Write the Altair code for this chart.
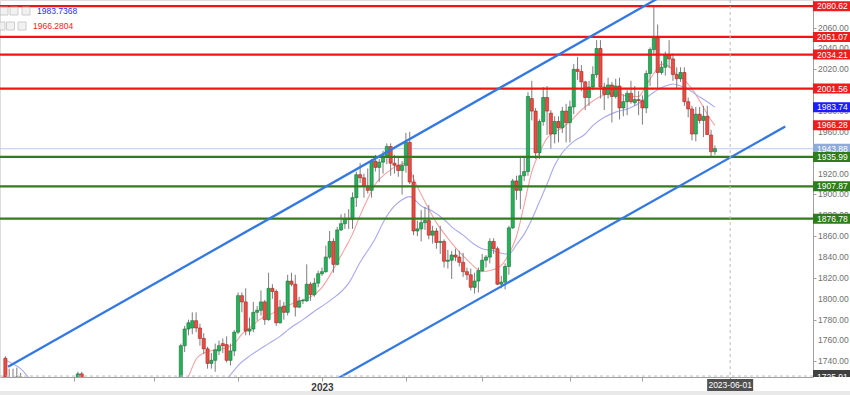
import altair as alt
import pandas as pd

# ---------------- data ----------------
# session numbers: 0 = 2022-11-01, one per trading day (2023-04-07 closed)
FIRST_SESSION = 7  # 2022-11-10
opens = [1706, 1755, 1771, 1772, 1779, 1772, 1762, 1752, 1738, 1741, 1750, 1757, 1756, 1741, 1750,
         1768, 1803, 1797, 1769, 1771, 1787, 1789, 1797, 1780, 1810, 1807, 1777, 1793, 1787, 1817,
         1814, 1792, 1798, 1798, 1814, 1804, 1815, 1824, 1826, 1840, 1855, 1833, 1866, 1872, 1877,
         1876, 1897, 1919, 1916, 1908, 1904, 1932, 1926, 1931, 1937, 1946, 1930, 1928, 1923, 1928,
         1950, 1912, 1865, 1867, 1873, 1875, 1861, 1865, 1854, 1855, 1836, 1837, 1842, 1840, 1835,
         1826, 1823, 1811, 1817, 1827, 1837, 1840, 1855, 1848, 1814, 1816, 1831, 1868, 1913, 1904,
         1918, 1922, 1992, 1980, 1940, 1970, 1993, 1978, 1958, 1970, 1964, 1980, 1969, 1984, 2020,
         2018, 2008, 1993, 2003, 2015, 2040, 2003, 1996, 2005, 1994, 2004, 1983, 1989, 1997, 1988,
         1991, 1990, 1983, 2016, 2039, 2050, 2017, 2022, 2034, 2030, 2015, 2011, 2017, 1989, 1982,
         1958, 1977, 1971, 1975, 1957, 1941]
highs = [1757, 1774, 1780, 1787, 1787, 1776, 1767, 1754, 1748, 1757, 1760, 1762, 1764, 1757, 1770,
         1806, 1806, 1810, 1782, 1797, 1793, 1808, 1799, 1825, 1814, 1809, 1799, 1797, 1823, 1825,
         1823, 1802, 1800, 1833, 1816, 1820, 1827, 1830, 1851, 1865, 1858, 1869, 1881, 1882, 1886,
         1902, 1922, 1930, 1920, 1925, 1934, 1938, 1934, 1942, 1949, 1949, 1938, 1935, 1932, 1959,
         1960, 1919, 1875, 1885, 1888, 1890, 1870, 1868, 1870, 1857, 1847, 1846, 1848, 1846, 1844,
         1830, 1829, 1825, 1830, 1843, 1842, 1858, 1858, 1850, 1822, 1834, 1870, 1915, 1918, 1937,
         1937, 1998, 2009, 1983, 1972, 2003, 2004, 1981, 1975, 1975, 1984, 1987, 1990, 2025, 2032,
         2024, 2009, 2009, 2023, 2048, 2048, 2007, 2012, 2008, 2011, 2012, 1996, 2000, 2009, 2004,
         1999, 1995, 2019, 2041, 2081, 2063, 2028, 2037, 2048, 2035, 2022, 2022, 2022, 1993, 1985,
         1984, 1984, 1985, 1985, 1962, 1947]
lows = [1702, 1749, 1765, 1766, 1768, 1755, 1747, 1733, 1733, 1730, 1746, 1748, 1739, 1736, 1745,
        1766, 1787, 1765, 1765, 1768, 1779, 1784, 1775, 1779, 1800, 1774, 1776, 1780, 1784, 1812,
        1783, 1791, 1795, 1797, 1798, 1802, 1811, 1822, 1825, 1838, 1825, 1832, 1865, 1867, 1867,
        1867, 1888, 1911, 1897, 1901, 1897, 1922, 1912, 1920, 1929, 1918, 1920, 1917, 1900, 1921,
        1910, 1861, 1860, 1855, 1866, 1857, 1853, 1848, 1843, 1830, 1829, 1819, 1836, 1831, 1821,
        1818, 1808, 1805, 1806, 1826, 1830, 1834, 1843, 1813, 1810, 1809, 1823, 1867, 1895, 1886,
        1913, 1918, 1971, 1934, 1934, 1966, 1957, 1944, 1949, 1950, 1959, 1950, 1950, 1977, 2010,
        1999, 1981, 1985, 2000, 2012, 1992, 1981, 1992, 1969, 1992, 1972, 1975, 1976, 1987, 1985,
        1976, 1967, 1978, 2004, 2035, 2002, 2015, 2014, 2021, 2009, 2002, 2008, 1985, 1974, 1952,
        1951, 1968, 1955, 1957, 1936, 1938]
closes = [1755, 1771, 1777, 1779, 1772, 1762, 1752, 1738, 1741, 1751, 1755, 1755, 1741, 1750, 1768,
          1803, 1797, 1769, 1771, 1787, 1789, 1797, 1780, 1810, 1807, 1777, 1792, 1787, 1817, 1814,
          1792, 1798, 1798.5, 1814, 1804, 1815, 1824, 1826, 1840, 1855, 1833, 1866, 1872, 1877, 1876,
          1897, 1919, 1916, 1908, 1904, 1932, 1926, 1931, 1937, 1946, 1930, 1928, 1923, 1928, 1950,
          1912, 1865, 1867, 1873, 1875, 1861, 1865, 1854, 1855, 1836, 1837, 1842, 1840, 1835, 1826,
          1823, 1811, 1817, 1827, 1837, 1840, 1855, 1848, 1814, 1816, 1831, 1868, 1913, 1904, 1918,
          1922, 1994, 1980, 1940, 1970, 1993, 1980, 1958, 1970, 1964, 1980, 1969, 1984, 2020, 2018,
          2008, 1993, 2003, 2015, 2040, 2003, 1996, 2005, 1994, 2004, 1983, 1989, 1997, 1989, 1991,
          1990, 1983, 2016, 2039, 2050, 2017, 2022, 2034, 2030, 2015, 2011, 2017, 1989, 1982, 1958,
          1977, 1971, 1975, 1957.5, 1941, 1943.88]

# a few older sessions whose tops just reach into view
early_sessions = [-39, -38, -37, -36, -35, -20, -19]
early_open = [1743, 1718, 1712, 1717, 1725, 1698, 1728]
early_high = [1745, 1733, 1733, 1734, 1729, 1730, 1730]
early_low = [1715, 1707, 1707, 1715, 1697, 1696, 1708]
early_close = [1725, 1712, 1717, 1725, 1702, 1728, 1716]

red_levels = [2080.62, 2051.07, 2034.21, 2001.56]
green_levels = [1935.99, 1907.87, 1876.78]
last_price = 1943.88
fast_ma_last = 1966.28
slow_ma_last = 1983.74
scale_low_label = 1725.91

fast_ma_sessions = [0, 5, 7, 9, 11, 13, 16, 19, 21, 23, 26, 28, 31, 33, 36, 39, 42, 44, 46, 48,
                    50, 52, 54, 56, 58, 61, 64, 66, 68, 71, 74, 77, 80, 83, 86, 89, 91, 93, 95, 97,
                    99, 101, 103, 105, 107, 109, 112, 114, 117, 120, 122, 125, 127, 129, 131, 133,
                    135, 137, 139, 141, 143, 145, 147]
fast_ma_values = [1650, 1690, 1710, 1725.5, 1742, 1748, 1751, 1753, 1757, 1766, 1775, 1781, 1786, 1790,
                  1795, 1799, 1804, 1811, 1822, 1835, 1848, 1862, 1880, 1896, 1910, 1921, 1928, 1930,
                  1915, 1893, 1873, 1858, 1845, 1834, 1826, 1828, 1832, 1843, 1860, 1890, 1922, 1940,
                  1954, 1960, 1964, 1970, 1981, 1987, 1994, 1997, 1996, 1994, 1994, 2005, 2016, 2025,
                  2023, 2015, 2010, 2001, 1990, 1977, 1966.28]
slow_ma_sessions = [-39, -37, -35, -33, -30, -20, 0, 10, 17, 20, 22, 25, 27, 30, 33, 35, 39, 42, 46,
                    51, 54, 58, 60, 63, 65, 67, 70, 73, 76, 78, 81, 84, 86, 89, 92, 93, 95, 97, 99,
                    101, 103, 105, 107, 110, 113, 115, 118, 121, 124, 126, 128, 131, 134, 136, 138,
                    140, 142, 145, 147]
slow_ma_values = [1741, 1737.5, 1733, 1725, 1712, 1690, 1660, 1690, 1715, 1727, 1736, 1745, 1750, 1757,
                  1764, 1770, 1780, 1788, 1798, 1815, 1835, 1858, 1873, 1889, 1895, 1898, 1889, 1884,
                  1876, 1869, 1861, 1852, 1848, 1846, 1843, 1843, 1852, 1862, 1876, 1893, 1910, 1928,
                  1940, 1951, 1958, 1966, 1974, 1979, 1982, 1985, 1990, 1998, 2004, 2006, 2004, 2001,
                  1996, 1989, 1983.74]

upper_channel_sessions = [-38.3, 134.9]
upper_channel_prices = [1734.8, 2094.0]
lower_channel_sessions = [46.35, 165.45]
lower_channel_prices = [1719.9, 1965.2]

month_ticks = [-21, 0, 22, 44, 66, 86, 109, 128, 151]
year_tick = 44
year_label = "2023"
cross_session = 151
cross_label = "2023-06-01"
price_ticks = [1740, 1760, 1780, 1800, 1820, 1840, 1860, 1880, 1900, 1920, 1940, 1960, 1980,
               2000, 2020, 2040, 2060]
legend_values = ["1983.7368", "1966.2804"]

# ---------------- tables ----------------
main = pd.DataFrame({
    "s": list(range(FIRST_SESSION, FIRST_SESSION + len(opens))),
    "o": opens, "h": highs, "l": lows, "c": closes,
})
early = pd.DataFrame({"s": early_sessions, "o": early_open, "h": early_high,
                      "l": early_low, "c": early_close})
candles = pd.concat([early, main], ignore_index=True)
up = candles.c >= candles.o
candles["fill"] = ["#22b35a" if u else "#ef4a43" for u in up]
candles["edge"] = ["#1d6e35" if u else "#a02a24" for u in up]

ma = pd.concat([
    pd.DataFrame({"s": fast_ma_sessions, "v": fast_ma_values, "ma": "fast", "col": "#f5a3a3"}),
    pd.DataFrame({"s": slow_ma_sessions, "v": slow_ma_values, "ma": "slow", "col": "#a9a9f2"}),
], ignore_index=True)

channels = pd.concat([
    pd.DataFrame({"s": upper_channel_sessions, "p": upper_channel_prices, "line": "upper"}),
    pd.DataFrame({"s": lower_channel_sessions, "p": lower_channel_prices, "line": "lower"}),
], ignore_index=True)

levels = pd.DataFrame({
    "p": red_levels + green_levels,
    "col": ["#f01414"] * len(red_levels) + ["#347a1e"] * len(green_levels),
})

RED_BG, GREEN_BG = "#ee1c1c", "#2f7d1a"
tags = pd.DataFrame({
    "p": red_levels + [slow_ma_last, fast_ma_last, last_price] + green_levels,
    "bg": [RED_BG] * len(red_levels) + ["#1c1cff", RED_BG, "#8faad8"] + [GREEN_BG] * len(green_levels),
})
tags["txt"] = [f"{v:.2f}" for v in tags.p]

tick_labels = pd.DataFrame({"p": price_ticks, "txt": [f"{v:.2f}" for v in price_ticks]})

one = pd.DataFrame({"a": [0]})

# ---------------- scales / axes ----------------
PX0, PX1 = -39.1, 171.41
xs = alt.Scale(domain=[PX0, PX1], nice=False, zero=False)
ys = alt.Scale(domain=[1725.0, 2086.5], nice=False, zero=False)

x_axis = alt.Axis(orient="bottom", values=month_ticks,
                  labelExpr=f"datum.value == {year_tick} ? '{year_label}' : ''",
                  tickSize=4, tickColor="#a0a0a0", domainColor="#a0a0a0",
                  labelColor="#3a3a3a", labelFontSize=10, labelFontWeight="bold",
                  labelFont="Liberation Sans", labelPadding=1, labelOverlap=False,
                  labelFlush=False, grid=False, title=None)
y_axis = alt.Axis(orient="right", values=price_ticks, labels=False, tickSize=3,
                  tickColor="#a0a0a0", domainColor="#a0a0a0", grid=False, title=None)


def X(field):
    return alt.X(field, type="quantitative", scale=xs, axis=x_axis)


def Y(field):
    return alt.Y(field, type="quantitative", scale=ys, axis=y_axis)


# ---------------- layers ----------------
ma_lines = alt.Chart(ma).mark_line(clip=True, strokeWidth=1.1, interpolate="monotone").encode(
    x=X("s"), y=Y("v"), color=alt.Color("col:N", scale=None), detail="ma:N")

last_line = alt.Chart(one).mark_rule(color="#b9cbef", strokeWidth=1).encode(y=alt.datum(last_price, scale=ys))

wicks = alt.Chart(candles).mark_rule(clip=True, color="#7d7d7d", strokeWidth=1).encode(
    x=X("s"), y=Y("l"), y2="h:Q")

bodies = alt.Chart(candles).mark_bar(clip=True, size=3.2, strokeWidth=0.6).encode(
    x=X("s"), y=Y("o"), y2="c:Q",
    color=alt.Color("fill:N", scale=None), stroke=alt.Stroke("edge:N", scale=None))

level_lines = alt.Chart(levels).mark_rule(strokeWidth=2.2).encode(
    y=Y("p"), color=alt.Color("col:N", scale=None))

channel_lines = alt.Chart(channels).mark_line(clip=True, color="#3478e2", strokeWidth=2.3).encode(
    x=X("s"), y=Y("p"), detail="line:N")

cross_v = alt.Chart(one).mark_rule(color="#bdbdbd", strokeDash=[3, 3], strokeWidth=1).encode(
    x=alt.datum(cross_session, scale=xs))
cross_h = alt.Chart(one).mark_rule(color="#bdbdbd", strokeDash=[3, 3], strokeWidth=1).encode(
    y=alt.datum(scale_low_label, scale=ys))

axis_text = alt.Chart(tick_labels).mark_text(align="left", baseline="middle", fontSize=8.5,
                                             font="Liberation Sans", color="#707070").encode(
    x=alt.value(818), y=Y("p"), text="txt:N")

tag_boxes = alt.Chart(tags).mark_rect(yOffset=-5, y2Offset=5).encode(
    x=alt.value(813), x2=alt.value(850), y=Y("p"), y2="p:Q",
    color=alt.Color("bg:N", scale=None))
tag_text = alt.Chart(tags).mark_text(align="left", baseline="middle", fontSize=8.5,
                                     font="Liberation Sans", color="white").encode(
    x=alt.value(817), y=Y("p"), text="txt:N")

low_box = alt.Chart(one).mark_rect(color="#404040", yOffset=-6).encode(
    x=alt.value(813), x2=alt.value(850), y=alt.datum(scale_low_label, scale=ys), y2=alt.value(377))
low_text = alt.Chart(one).mark_text(align="left", baseline="middle", fontSize=8.5,
                                    font="Liberation Sans", color="white", dy=1).encode(
    x=alt.value(817), y=alt.datum(scale_low_label, scale=ys), text=alt.value(f"{scale_low_label:.2f}"))
low_cover = alt.Chart(one).mark_rect(color="white").encode(
    x=alt.value(813.5), x2=alt.value(850), y=alt.value(377.5), y2=alt.value(391))

date_box = alt.Chart(one).mark_rect(color="#505050", xOffset=-23, x2Offset=23).encode(
    x=alt.datum(cross_session, scale=xs), x2=alt.datum(cross_session), y=alt.value(379), y2=alt.value(391))
date_text = alt.Chart(one).mark_text(fontSize=8.5, font="Liberation Sans", color="white",
                                     baseline="middle").encode(
    x=alt.datum(cross_session, scale=xs), y=alt.value(385), text=alt.value(cross_label))

band = alt.Chart(one).mark_rect(color="#e9e9e9").encode(
    x=alt.value(0), x2=alt.value(850), y=alt.value(391), y2=alt.value(395))

decor = []
for ix, iy in [(4, 11), (14, 11), (26, 11), (1, 26), (10.5, 26), (22, 26)]:
    decor.append(alt.Chart(one).mark_square(size=64, filled=True, color="#ececec",
                                            stroke="#b8b8b8", strokeWidth=1).encode(
        x=alt.value(ix), y=alt.value(iy)))
for txt, lx, ly, lc in zip(legend_values, [37, 33], [11, 26], ["#2b2bff", "#ff2020"]):
    decor.append(alt.Chart(one).mark_text(align="left", baseline="middle", fontSize=8.5,
                                          font="Liberation Sans", color=lc).encode(
        x=alt.value(lx), y=alt.value(ly), text=alt.value(txt)))

chart = alt.layer(
    ma_lines, last_line, wicks, bodies, level_lines, channel_lines, cross_v, cross_h, axis_text,
    tag_boxes, tag_text, low_box, low_text, low_cover, date_box, date_text, band, *decor,
).properties(
    width=813, height=377, autosize="none",
    padding={"left": 0, "top": 0, "right": 37, "bottom": 18},
).configure_view(stroke=None).configure(background="white")

chart.save("out.html", embed_options={"renderer": "svg", "actions": False})
